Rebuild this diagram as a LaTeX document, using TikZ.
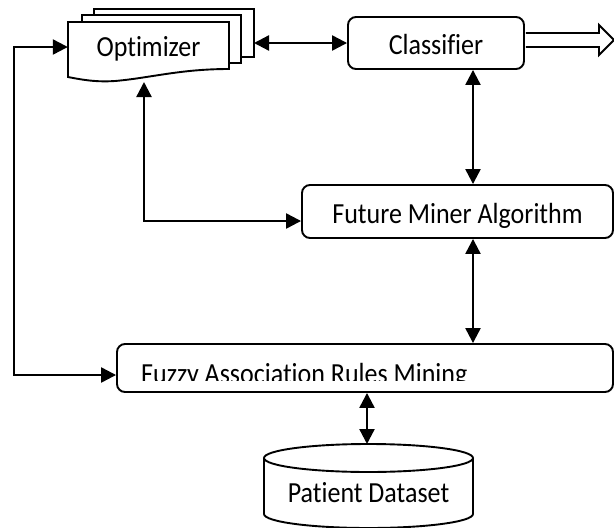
\documentclass[tikz,border=0pt]{standalone}
\usepackage{fontspec}
\setmainfont{Carlito}[Ligatures=NoCommon]
\usetikzlibrary{arrows.meta,calc}

% slightly taller lettering
\newcommand\tallt[1]{\scalebox{1}[1.12]{#1}}

\tikzset{
  boxline/.style={line width=1.9pt},
  lbl/.style={font=\fontsize{26}{30}\selectfont},
  procbox/.style={boxline, draw, rounded corners=8pt, fill=white, inner sep=0pt,
                  text height=24pt, text depth=0.5pt},
  link/.style={line width=2.3pt,
               {Triangle[length=15pt,width=15pt]}-{Triangle[length=15pt,width=15pt]}},
}

\begin{document}
\begin{tikzpicture}[x=1pt,y=-1pt]
\useasboundingbox (0,0) rectangle (614,528);

% stack of documents behind the optimizer
\draw[boxline, fill=white] (94,9) rectangle (254,57);
\draw[boxline, fill=white] (82,15) rectangle (241,63);
\draw[boxline, fill=white] (68,77) -- (68,22) -- (229,22) -- (229,69)
  .. controls (180,69) and (150,78) .. (115,81)
  .. controls (100,82) and (88,81) .. (68,77) -- cycle;
\node[lbl, minimum width=161pt, minimum height=50pt, inner sep=0pt,
      text height=18.5pt, text depth=0.5pt] (opt) at (148.5,47) {\tallt{Optimizer}};

% process boxes
\node[procbox, lbl, minimum width=176pt, minimum height=52pt] (cls) at (436,43) {\tallt{Classifier}};
\node[procbox, lbl, minimum width=311pt, minimum height=53pt] (fm) at (457.5,211.5)
  {\tallt{Future Miner Algorithm}\hspace{11pt}};
\node[procbox, minimum width=496pt, minimum height=48pt] (fz) at (365,368) {};
\begin{scope}
  \clip (fz.north west) rectangle ($(fz.east)+(0,12)$);
  \node[lbl, anchor=base west, inner sep=0pt] (fztext) at (141,383)
    {\tallt{Fuzzy Association Rules Mining}};
\end{scope}

% database cylinder
\draw[boxline, fill=white] (264,458) -- (264,514)
  arc[start angle=180, end angle=0, x radius=104.5, y radius=14] -- (473,458);
\draw[boxline, fill=white] (368.5,458) ellipse [x radius=104.5, y radius=14];
\node[lbl, anchor=base, inner sep=0pt] (db) at (368.5,502) {\tallt{Patient Dataset}};
\coordinate (dbtop) at (367,444);

% output of the classifier
\coordinate (out) at (614,40);
\draw[boxline, fill=white] ($(cls.east)+(1,-10)$) -- ++(73,0) -- ++(0,-8) -- (out)
  -- ($(cls.east)+(74,12)$) -- ++(0,-8) -- ($(cls.east)+(1,4)$);

% connectors
\coordinate (optback) at (254,43);
\coordinate (optfoot) at (144,82);
\coordinate (rail) at ($(cls.south)+(37,0)$);
\draw[link] (optback) -- (cls.west);
\draw[link] (optfoot) |- ($(fm.west)+(0,9.5)$);
\draw[link] (opt.west) -- ++(-54,0) |- ($(fz.west)+(0,7)$);
\draw[link] (rail) -- (rail |- fm.north);
\draw[link] (rail |- fm.south) -- (rail |- fz.north);
\draw[link] (dbtop |- fz.south) -- (dbtop);
\end{tikzpicture}
\end{document}
